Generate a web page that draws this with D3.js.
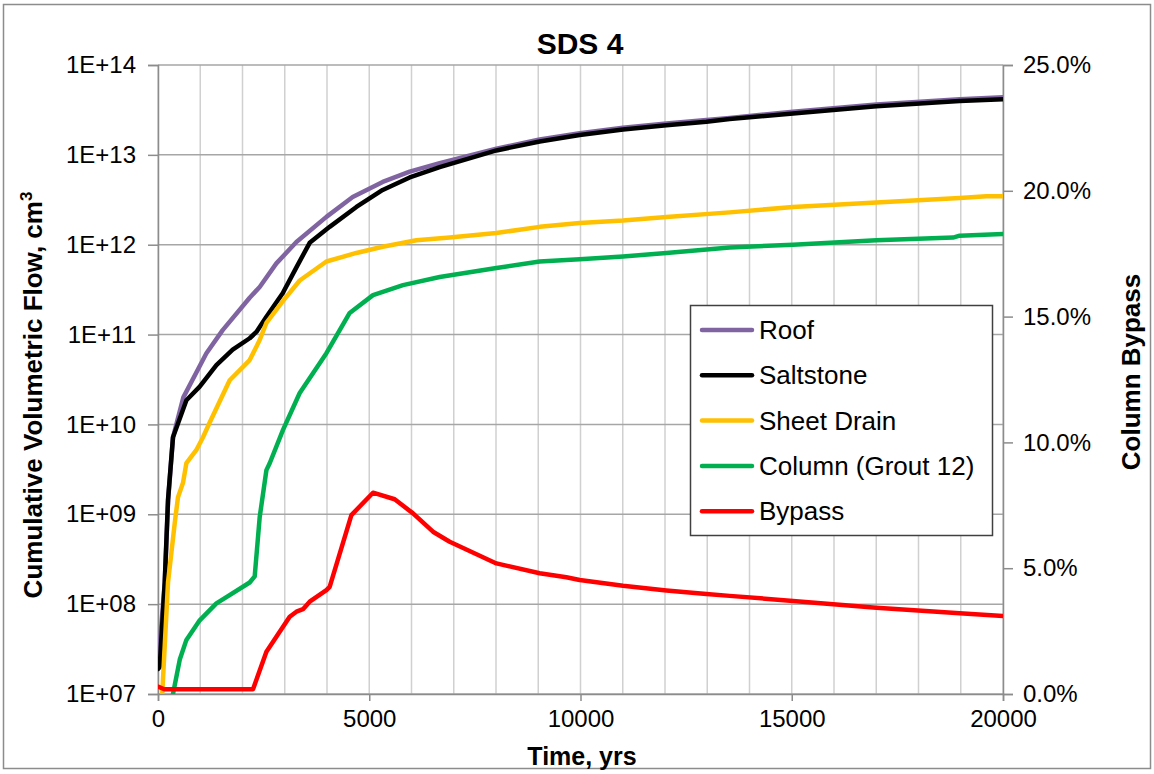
<!DOCTYPE html>
<html>
<head>
<meta charset="utf-8">
<script src="https://cdn.jsdelivr.net/npm/d3@7"></script>
<style>
  html, body { margin: 0; padding: 0; background: #fff; }
  svg { display: block; font-family: Arial, "Liberation Sans", sans-serif; }
</style>
</head>
<body>
<svg id="chart" width="1154" height="774"></svg>
<script>
// ---- Data (time in years, flows in cm^3, bypass in %) ----
const roofT = [0, 160, 240, 355, 600, 1146, 1531, 2170, 2407, 2802, 3276, 3986, 4608, 5318, 5957, 6667, 8010, 9034, 9981, 11006, 12033, 12980, 13531, 15030, 17004, 18975, 20000];
const roofV = [2.0e7, 1.74e8, 1.45e9, 7.2e9, 2.0e10, 6.2e10, 1.12e11, 2.57e11, 3.39e11, 6.2e11, 1.07e12, 2.04e12, 3.39e12, 5.0e12, 6.5e12, 8.1e12, 1.17e13, 1.48e13, 1.74e13, 2.0e13, 2.24e13, 2.45e13, 2.57e13, 3.02e13, 3.63e13, 4.17e13, 4.37e13];

const saltT = [0, 40, 159, 237, 355, 672, 987, 1382, 1768, 2170, 2329, 2566, 2951, 3276, 3590, 4063, 4696, 5318, 5957, 6667, 8010, 9034, 9981, 11006, 12033, 12980, 13531, 15030, 17004, 18975, 20000];
const saltV = [1.9e7, 2.0e7, 1.74e8, 1.45e9, 7.2e9, 1.86e10, 2.63e10, 4.57e10, 6.8e10, 9.1e10, 1.07e11, 1.58e11, 2.88e11, 5.6e11, 1.05e12, 1.58e12, 2.63e12, 4.07e12, 5.6e12, 7.3e12, 1.12e13, 1.41e13, 1.66e13, 1.91e13, 2.14e13, 2.34e13, 2.51e13, 2.88e13, 3.47e13, 3.98e13, 4.17e13];

const drainT = [100, 237, 395, 473, 592, 672, 909, 1065, 1224, 1697, 2170, 2407, 2566, 2951, 3354, 3986, 4696, 5318, 6116, 6904, 8010, 9034, 9981, 11006, 12033, 13531, 15030, 17004, 18975, 19607, 20000];
const drainV = [1.0e7, 1.74e8, 7.9e8, 1.55e9, 2.24e9, 3.7e9, 5.2e9, 7.2e9, 1.05e10, 3.1e10, 5.2e10, 8.7e10, 1.35e11, 2.34e11, 4.0e11, 6.5e11, 8.1e11, 9.5e11, 1.12e12, 1.2e12, 1.35e12, 1.58e12, 1.74e12, 1.86e12, 2.04e12, 2.29e12, 2.63e12, 2.95e12, 3.31e12, 3.47e12, 3.47e12];

const columnT = [355, 514, 672, 987, 1382, 1619, 2170, 2289, 2407, 2566, 2644, 2959, 3354, 3986, 4537, 5089, 5799, 6667, 8010, 9034, 9981, 11006, 12033, 13531, 15030, 17004, 18817, 18975, 20000];
const columnV = [1.0e7, 2.4e7, 4.0e7, 6.6e7, 1.02e8, 1.2e8, 1.74e8, 2.04e8, 9.3e8, 3.1e9, 3.7e9, 8.7e9, 2.24e10, 6.2e10, 1.74e11, 2.75e11, 3.55e11, 4.37e11, 5.5e11, 6.5e11, 6.9e11, 7.4e11, 8.1e11, 9.3e11, 1.0e12, 1.12e12, 1.2e12, 1.26e12, 1.32e12];

const bypassT = [0, 150, 2249, 2566, 2802, 3117, 3276, 3432, 3590, 3986, 4063, 4577, 5089, 5602, 6036, 6509, 6904, 8010, 9034, 9665, 9981, 11006, 12033, 12980, 13531, 15030, 17004, 18975, 20000];
const bypassP = [0.29, 0.19, 0.19, 1.68, 2.28, 3.07, 3.27, 3.37, 3.67, 4.13, 4.26, 7.11, 8.00, 7.74, 7.18, 6.45, 6.05, 5.19, 4.80, 4.64, 4.53, 4.30, 4.11, 3.97, 3.90, 3.70, 3.43, 3.21, 3.10];

const xTicks = [0, 5000, 10000, 15000, 20000];
const yTickLabels = ["1E+07", "1E+08", "1E+09", "1E+10", "1E+11", "1E+12", "1E+13", "1E+14"];
const y2TickLabels = ["0.0%", "5.0%", "10.0%", "15.0%", "20.0%", "25.0%"];

const seriesNames = ["Roof", "Saltstone", "Sheet Drain", "Column (Grout 12)", "Bypass"];
const seriesColors = ["#8064A2", "#000000", "#FFC000", "#00B050", "#FF0000"];

// ---- Layout ----
const svg = d3.select("#chart");
const L = 158, R = 1003, T = 65, B = 694;

const x = d3.scaleLinear().domain([0, 20000]).range([L, R]);
const y = d3.scaleLog().domain([1e7, 1e14]).range([B, T]);
const y2 = d3.scaleLinear().domain([0, 25]).range([B, T]);

// outer frame
svg.append("rect").attr("x", 3.5).attr("y", 4.5).attr("width", 1147).attr("height", 764)
  .attr("fill", "#fff").attr("stroke", "#8c8c8c").attr("stroke-width", 1.5);

// vertical gridlines
const vg = d3.range(0, 20001, 1000);
svg.append("g").selectAll("line").data(vg).join("line")
  .attr("x1", d => x(d)).attr("x2", d => x(d)).attr("y1", T).attr("y2", B)
  .attr("stroke", "#d0d0d0").attr("stroke-width", 1.5);

// horizontal gridlines
const hg = d3.range(7, 15).map(p => Math.pow(10, p));
svg.append("g").selectAll("line").data(hg).join("line")
  .attr("x1", L).attr("x2", R).attr("y1", d => y(d)).attr("y2", d => y(d))
  .attr("stroke", "#a6a6a6").attr("stroke-width", 1.5);

// axes
const fs = "24px";
const xAxis = d3.axisBottom(x).tickValues(xTicks).tickSize(7).tickPadding(9).tickFormat(d3.format("d"));
const gx = svg.append("g").attr("transform", `translate(0,${B})`).call(xAxis);
const yAxis = d3.axisLeft(y).tickValues(hg).tickSize(10).tickPadding(12)
  .tickFormat((d, i) => yTickLabels[i]);
const gy = svg.append("g").attr("transform", `translate(${L},0)`).call(yAxis);
const y2Axis = d3.axisRight(y2).tickValues([0, 5, 10, 15, 20, 25]).tickSize(10).tickPadding(10)
  .tickFormat((d, i) => y2TickLabels[i]);
const gy2 = svg.append("g").attr("transform", `translate(${R},0)`).call(y2Axis);

[gx, gy, gy2].forEach(g => {
  g.selectAll(".domain").attr("stroke", "#8c8c8c").attr("stroke-width", 1.5);
  g.selectAll(".tick line").attr("stroke", "#8c8c8c").attr("stroke-width", 1.5);
  g.selectAll("text").attr("font-size", fs).attr("fill", "#000")
    .attr("font-family", "Arial, 'Liberation Sans', sans-serif");
});

// clip
svg.append("clipPath").attr("id", "clip").append("rect")
  .attr("x", L).attr("y", T - 3).attr("width", R - L).attr("height", B - T + 3);

const lineLog = d3.line().x(d => x(d[0])).y(d => y(d[1]));
const lineP = d3.line().x(d => x(d[0])).y(d => y2(d[1]));

const plot = svg.append("g").attr("clip-path", "url(#clip)");
const logSeries = [[roofT, roofV], [saltT, saltV], [drainT, drainV], [columnT, columnV]];
logSeries.forEach((s, i) => {
  plot.append("path").datum(s[0].map((t, j) => [t, s[1][j]]))
    .attr("d", lineLog).attr("fill", "none").attr("stroke", seriesColors[i])
    .attr("stroke-width", 4.5).attr("stroke-linejoin", "round").attr("stroke-linecap", "round");
});
plot.append("path").datum(bypassT.map((t, j) => [t, bypassP[j]]))
  .attr("d", lineP).attr("fill", "none").attr("stroke", seriesColors[4])
  .attr("stroke-width", 4.5).attr("stroke-linejoin", "round").attr("stroke-linecap", "round");

// titles
svg.append("text").attr("x", 580).attr("y", 54).attr("text-anchor", "middle")
  .attr("font-size", "30px").attr("font-weight", "bold").text("SDS 4");
svg.append("text").attr("x", 582).attr("y", 765).attr("text-anchor", "middle")
  .attr("font-size", "25px").attr("font-weight", "bold").text("Time, yrs");
const lt = svg.append("text").attr("transform", "translate(42,395) rotate(-90)")
  .attr("text-anchor", "middle").attr("font-size", "26px").attr("font-weight", "bold");
lt.append("tspan").text("Cumulative Volumetric Flow, cm");
lt.append("tspan").attr("font-size", "17px").attr("dy", "-10").text("3");
svg.append("text").attr("transform", "translate(1140,372) rotate(-90)")
  .attr("text-anchor", "middle").attr("font-size", "26px").attr("font-weight", "bold").text("Column Bypass");

// legend
const lg = svg.append("g");
lg.append("rect").attr("x", 690.5).attr("y", 305.5).attr("width", 302).attr("height", 230)
  .attr("fill", "#fff").attr("stroke", "#404040").attr("stroke-width", 1.5);
seriesNames.forEach((n, i) => {
  const yy = 330 + i * 45.3;
  lg.append("line").attr("x1", 702).attr("x2", 752).attr("y1", yy).attr("y2", yy)
    .attr("stroke", seriesColors[i]).attr("stroke-width", 4.5).attr("stroke-linecap", "round");
  lg.append("text").attr("x", 759).attr("y", yy + 9).attr("font-size", "26px").text(n);
});
</script>
</body>
</html>
